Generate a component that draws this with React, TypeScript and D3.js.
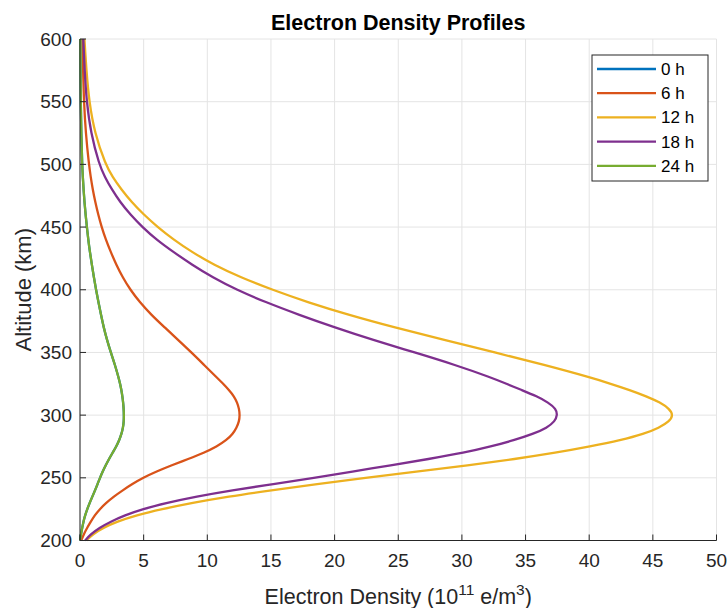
import React from "react";
import * as d3 from "d3";

// altitude samples (km)
const altitudes = [
  200, 205, 210, 215, 220, 225, 230, 235, 240, 245, 250, 255, 260, 265, 270, 275, 280, 285, 290, 295,
  300, 305, 310, 315, 320, 325, 330, 340, 350, 360, 370, 380, 390, 400, 410, 420, 430, 440, 450, 460,
  470, 480, 490, 500, 525, 550, 575, 600,
];

// electron density (1e11 e/m^3) per local time
const dens0h = [
  0.0, 0.08, 0.17, 0.27, 0.4, 0.57, 0.76, 0.97, 1.18, 1.38, 1.57, 1.78, 2.02, 2.28, 2.56, 2.85, 3.08, 3.26, 3.38, 3.44,
  3.45, 3.43, 3.39, 3.33, 3.25, 3.15, 3.03, 2.75, 2.42, 2.12, 1.86, 1.65, 1.45, 1.26, 1.09, 0.93, 0.78, 0.65, 0.54, 0.44,
  0.35, 0.28, 0.22, 0.17, 0.1, 0.06, 0.04, 0.03,
];
const dens6h = [
  0.1, 0.3, 0.55, 0.85, 1.15, 1.55, 2.05, 2.65, 3.35, 4.1, 4.95, 6.0, 7.2, 8.5, 9.75, 10.75, 11.5, 12.0, 12.3, 12.5,
  12.55, 12.5, 12.35, 12.1, 11.7, 11.25, 10.75, 9.75, 8.75, 7.7, 6.65, 5.6, 4.7, 3.95, 3.35, 2.85, 2.42, 2.03, 1.7, 1.43,
  1.2, 1.0, 0.84, 0.7, 0.45, 0.31, 0.24, 0.2,
];
const dens12h = [
  0.5, 1.0, 1.8, 2.9, 4.4, 6.4, 8.8, 11.6, 15.0, 18.6, 22.4, 26.4, 30.5, 34.2, 37.4, 40.1, 42.5, 44.3, 45.5, 46.3,
  46.6, 46.3, 45.6, 44.5, 43.2, 41.7, 40.1, 36.5, 32.6, 28.6, 24.7, 21.1, 17.9, 15.1, 12.6, 10.5, 8.8, 7.35, 6.1, 5.0,
  4.05, 3.25, 2.55, 2.0, 1.15, 0.72, 0.5, 0.35,
];
const dens18h = [
  0.4, 0.85, 1.5, 2.4, 3.5, 4.9, 6.8, 9.1, 11.9, 15.2, 18.4, 21.4, 24.4, 27.4, 30.2, 32.3, 34.1, 35.6, 36.7, 37.3,
  37.5, 37.4, 36.8, 35.9, 34.7, 33.5, 32.3, 29.5, 26.3, 23.0, 20.0, 17.2, 14.6, 12.3, 10.4, 8.8, 7.35, 6.0, 4.9, 3.95,
  3.15, 2.5, 1.95, 1.5, 0.85, 0.52, 0.36, 0.26,
];
const dens24h = [
  0.0, 0.08, 0.17, 0.27, 0.4, 0.57, 0.76, 0.97, 1.18, 1.38, 1.57, 1.78, 2.02, 2.28, 2.56, 2.85, 3.08, 3.26, 3.38, 3.44,
  3.45, 3.43, 3.39, 3.33, 3.25, 3.15, 3.03, 2.75, 2.42, 2.12, 1.86, 1.65, 1.45, 1.26, 1.09, 0.93, 0.78, 0.65, 0.54, 0.44,
  0.35, 0.28, 0.22, 0.17, 0.1, 0.06, 0.04, 0.03,
];

const seriesNames = ["0 h", "6 h", "12 h", "18 h", "24 h"];
const seriesColors = ["#0072BD", "#D95319", "#EDB120", "#7E2F8E", "#77AC30"];
const seriesValues = [dens0h, dens6h, dens12h, dens18h, dens24h];

const xTicks = [0, 5, 10, 15, 20, 25, 30, 35, 40, 45, 50];
const yTicks = [200, 250, 300, 350, 400, 450, 500, 550, 600];

const W = 727;
const H = 608;
const margin = { top: 39, right: 10.5, bottom: 67.5, left: 80 };
const ink = "#262626";
const font = "'Liberation Sans', Arial, Helvetica, sans-serif";

export default function App() {
  const x = d3.scaleLinear().domain([0, 50]).range([margin.left, W - margin.right]);
  const y = d3.scaleLinear().domain([200, 600]).range([H - margin.bottom, margin.top]);

  const line = d3
    .line<number>()
    .x((d) => x(d))
    .y((_, i) => y(altitudes[i]))
    .curve(d3.curveBasis);

  const x0 = margin.left;
  const x1 = W - margin.right;
  const y0 = H - margin.bottom;
  const y1 = margin.top;

  // legend
  const lgX = 592;
  const lgY = 55;
  const lgW = 116;
  const lgH = 126;
  const rowH = 24.2;

  return (
    <svg
      width={W}
      height={H}
      style={{ position: "fixed", left: 0, top: 0, background: "#fff" }}
      fontFamily={font}
    >
      <rect width={W} height={H} fill="#fff" />

      {/* grid */}
      <g stroke="#e4e4e4" strokeWidth={1}>
        {xTicks.map((t) => (
          <line key={"gx" + t} x1={x(t)} x2={x(t)} y1={y1} y2={y0} />
        ))}
        {yTicks.map((t) => (
          <line key={"gy" + t} x1={x0} x2={x1} y1={y(t)} y2={y(t)} />
        ))}
      </g>

      {/* curves */}
      <g fill="none" strokeWidth={2.3} strokeLinejoin="round">
        {seriesValues.map((vals, i) => (
          <path key={seriesNames[i]} d={line(vals) ?? ""} stroke={seriesColors[i]} />
        ))}
      </g>

      {/* axes */}
      <g stroke={ink} strokeWidth={1}>
        <line x1={x0} x2={x1} y1={y0} y2={y0} />
        <line x1={x0} x2={x0} y1={y0} y2={y1} />
        {xTicks.map((t) => (
          <line key={"tx" + t} x1={x(t)} x2={x(t)} y1={y0} y2={y0 - 6} />
        ))}
        {yTicks.map((t) => (
          <line key={"ty" + t} x1={x0} x2={x0 + 6} y1={y(t)} y2={y(t)} />
        ))}
      </g>

      <g fill={ink} fontSize={19}>
        {xTicks.map((t) => (
          <text key={"lx" + t} x={x(t)} y={y0 + 26} textAnchor="middle">
            {t}
          </text>
        ))}
        {yTicks.map((t) => (
          <text key={"ly" + t} x={x0 - 8} y={y(t) + 6.5} textAnchor="end">
            {t}
          </text>
        ))}
      </g>

      {/* axis labels */}
      <text x={(x0 + x1) / 2} y={H - 4} textAnchor="middle" fontSize={21.5} fill={ink}>
        Electron Density (10
        <tspan dy={-9} fontSize={15.5}>
          11
        </tspan>
        <tspan dy={9}> e/m</tspan>
        <tspan dy={-9} fontSize={15.5}>
          3
        </tspan>
        <tspan dy={9}>)</tspan>
      </text>
      <text
        transform={`translate(31,${(y0 + y1) / 2}) rotate(-90)`}
        textAnchor="middle"
        fontSize={22}
        fill={ink}
      >
        Altitude (km)
      </text>

      {/* title */}
      <text x={(x0 + x1) / 2} y={30} textAnchor="middle" fontSize={21.5} fontWeight="bold" fill="#000">
        Electron Density Profiles
      </text>

      {/* legend */}
      <g>
        <rect x={lgX} y={lgY} width={lgW} height={lgH} fill="#fff" stroke={ink} strokeWidth={1} />
        {seriesNames.map((name, i) => {
          const ry = lgY + 14 + i * rowH;
          return (
            <g key={"lg" + name}>
              <line x1={lgX + 5} x2={lgX + 64} y1={ry} y2={ry} stroke={seriesColors[i]} strokeWidth={2.3} />
              <text x={lgX + 69} y={ry + 6} fontSize={17} fill="#000">
                {name}
              </text>
            </g>
          );
        })}
      </g>
    </svg>
  );
}
